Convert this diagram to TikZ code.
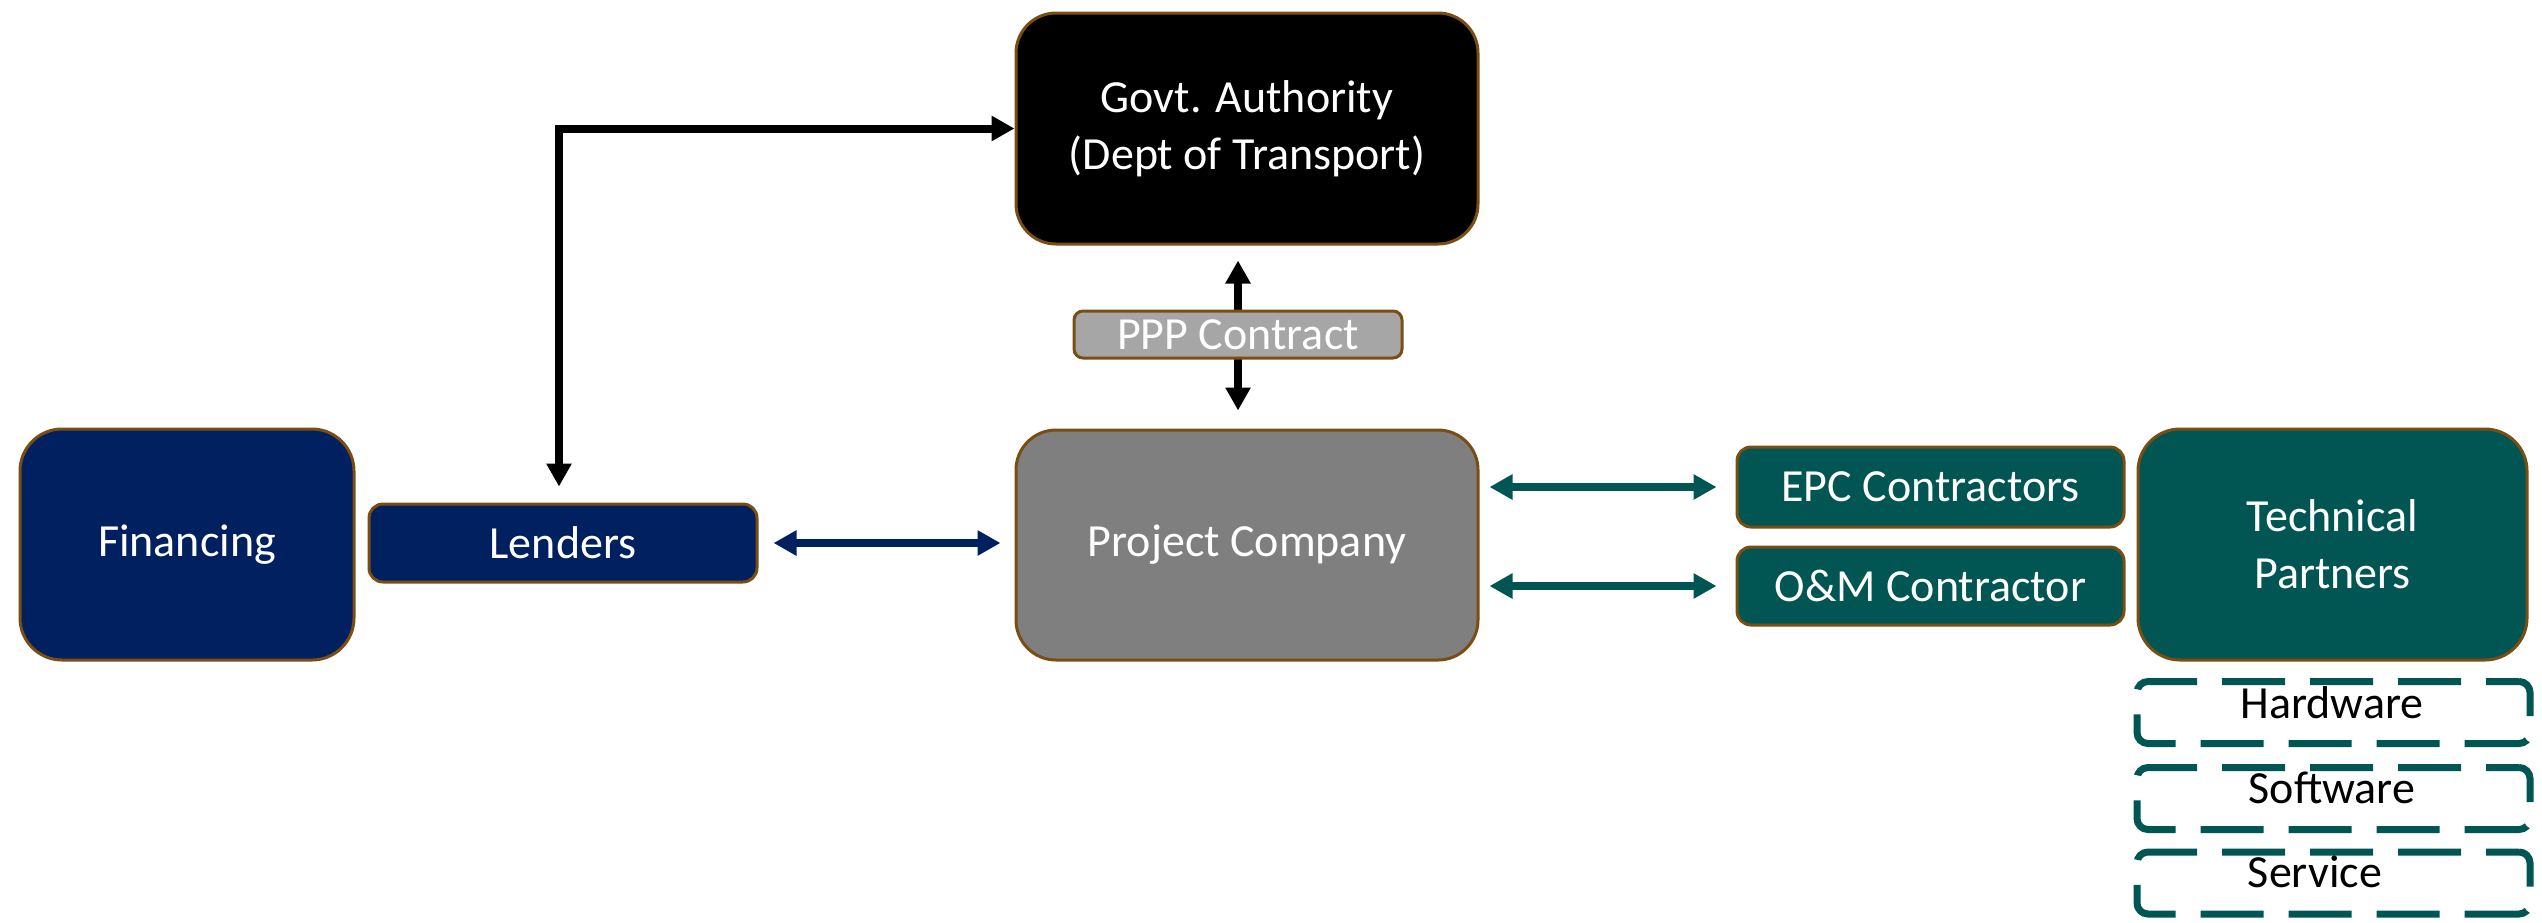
\documentclass[tikz,border=0pt]{standalone}
\usepackage{fontspec}
\setmainfont{Carlito}
\usetikzlibrary{arrows.meta}
\definecolor{navy}{HTML}{002060}
\definecolor{tealc}{HTML}{015654}
\definecolor{brownb}{RGB}{122,78,18}
\definecolor{pcgray}{HTML}{7F7F7F}
\definecolor{pppgray}{HTML}{A6A6A6}
\tikzset{
  box/.style={draw=brownb, line width=3pt, rounded corners=#1, text=white,
    font=\fontsize{46}{57}\selectfont, align=center, inner sep=0pt},
  box/.default=14pt,
  dbox/.style={draw=tealc, line width=7pt, dash pattern=on 63pt off 25pt, dash phase=30pt, rounded corners=11pt,
    minimum width=393pt, minimum height=62pt, inner sep=0pt},
  dtext/.style={text=black, font=\fontsize{46}{55}\selectfont, anchor=base, inner sep=0pt},
  arr/.style={line width=8pt, {Triangle[length=23pt,width=24pt]}-{Triangle[length=23pt,width=24pt]}},
}
\begin{document}
\begin{tikzpicture}[x=1pt,y=-1pt]
\useasboundingbox (0,0) rectangle (2542,922);
% nodes
\node[box=42pt, fill=navy, minimum width=334pt, minimum height=231pt] (fin) at (187,544.5) {Financing};
\node[box=14pt, fill=navy, minimum width=388pt, minimum height=78pt] (lend) at (563,543) {Lenders};
\node[box=40pt, fill=black, minimum width=462pt, minimum height=231pt] (gov) at (1247,128.5) {Govt. Authority\\(Dept of Transport)};
\node[box=40pt, fill=pcgray, minimum width=462pt, minimum height=230pt] (proj) at (1247,545) {Project Company};
\node[box=14pt, fill=tealc, minimum width=387pt, minimum height=80pt] (epc) at (1930.5,487) {EPC Contractors};
\node[box=14pt, fill=tealc, minimum width=387pt, minimum height=78pt] (om) at (1930.5,586) {O\&M Contractor};
\node[box=42pt, fill=tealc, minimum width=389pt, minimum height=231pt] (tech) at (2332.5,544.5) {Technical\\Partners};
% dashed boxes
\node[dbox] (hw) at (2333.5,712.5) {};
\node[dbox] (sw) at (2333.5,798.5) {};
\node[dbox] (sv) at (2333.5,883) {};
\node[dtext] (hwt) at (2332,718) {Hardware};
\node[dtext] (swt) at (2332,803) {Software};
\node[dtext] (svt) at (2315,887) {Service};
% connectors
\draw[arr, shorten <=16pt] ([xshift=-4pt]lend.north) |- (gov.west);
\draw[arr, shorten <=15pt, shorten >=18pt] ([xshift=-9pt]gov.south) -- ([xshift=-9pt]proj.north);
\draw[arr, draw=navy, fill=navy, shorten <=15pt, shorten >=14pt] (lend.east) -- (lend.east -| proj.west);
\draw[arr, draw=tealc, fill=tealc, shorten <=10pt, shorten >=19pt] (proj.east |- epc.west) -- (epc.west);
\draw[arr, draw=tealc, fill=tealc, shorten <=10pt, shorten >=19pt] (proj.east |- om.west) -- (om.west);
% PPP label over the vertical arrow
\node[box=9pt, fill=pppgray, minimum width=328pt, minimum height=47pt] (ppp) at (1238,334.5) {PPP Contract};
\end{tikzpicture}
\end{document}
